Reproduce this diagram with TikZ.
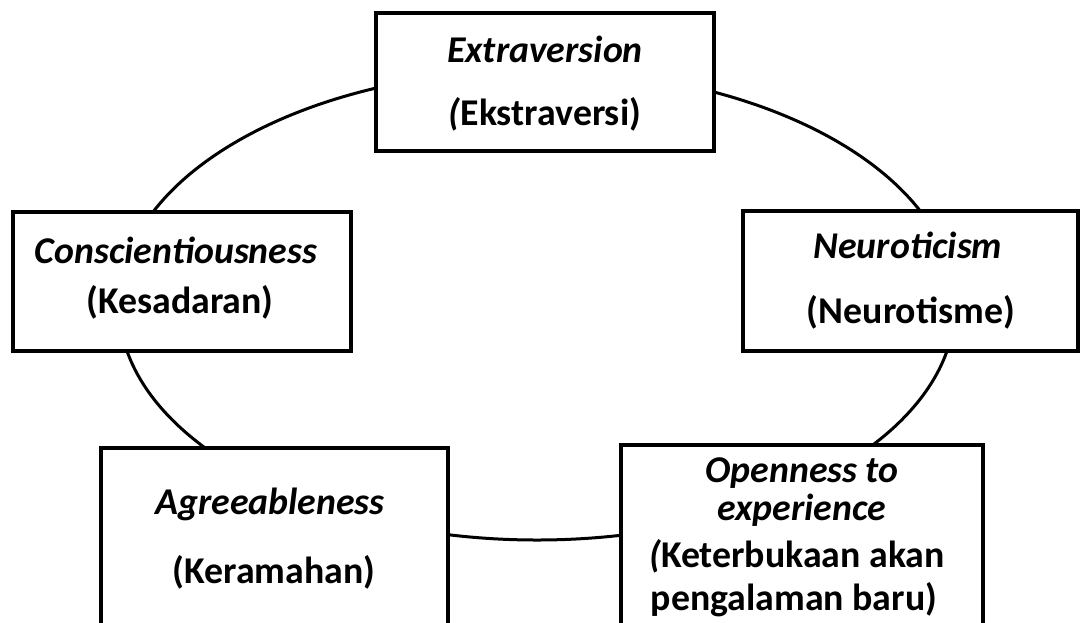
\documentclass[tikz,border=0pt]{standalone}
\usepackage{fontspec}
\setmainfont{Carlito}
\begin{document}
\begin{tikzpicture}[x=0.5pt,y=-0.5pt,
  box/.style={draw=black,line width=1.8pt,fill=white,inner sep=0pt},
  ring/.style={draw=black,line width=1.5pt},
  lbl/.style={anchor=base,inner sep=0pt,font=\fontsize{18.9}{22}\selectfont\bfseries}]
\useasboundingbox (0,0) rectangle (1080,622);
\begin{scope}
\clip (0,0) rectangle (1080,622);
% the ring that joins the five traits
\draw[ring] (537,305) ellipse [x radius=418, y radius=235];

% trait boxes
\node[box,minimum width=169pt,minimum height=69pt]    (ext) at (545,82) {};
\node[box,minimum width=169pt,minimum height=69.5pt]  (con) at (182,281.5) {};
\node[box,minimum width=167.5pt,minimum height=70pt]  (neu) at (910.5,281) {};
\node[box,minimum width=173.5pt,minimum height=101pt] (agr) at (274.5,549) {};
\node[box,minimum width=181pt,minimum height=102.5pt] (ope) at (802,547.5) {};
\end{scope}

% labels
\node[lbl] (ext1) at (545,62)  {\itshape Extraversion};
\node[lbl] (ext2) at (545,125) {\textit{(}Ekstraversi)};

\node[lbl] (con1) at (176,263) {\itshape Conscientiousness};
\node[lbl] (con2) at (180,313) {(Kesadaran)};

\node[lbl] (neu1) at (908,258) {\itshape Neuroticism};
\node[lbl] (neu2) at (911,323) {(Neurotisme)};

\node[lbl] (agr1) at (270,514) {\itshape Agreeableness};
\node[lbl] (agr2) at (274,583) {(Keramahan)};

\node[lbl] (ope1) at (802,482) {\itshape Openness to};
\node[lbl] (ope2) at (802,520) {\itshape experience};
\node[lbl] (ope3) at (797,567) {\textit{(}Keterbukaan akan};
\node[lbl] (ope4) at (794,610) {pengalaman baru)};
\end{tikzpicture}
\end{document}
